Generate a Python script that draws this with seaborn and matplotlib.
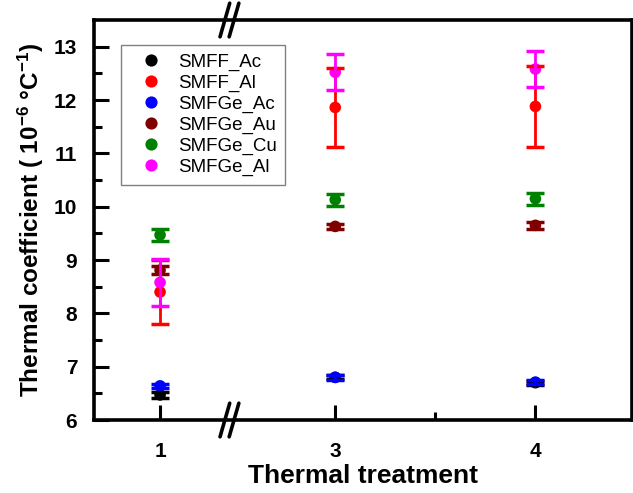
import numpy as np
import pandas as pd
import matplotlib
matplotlib.use("Agg")
import matplotlib.pyplot as plt
from matplotlib.ticker import FixedLocator, NullFormatter
import seaborn as sns

# Dữ liệu
treatments = [1, 3, 4]
series_names = ["SMFF_Ac", "SMFF_Al", "SMFGe_Ac", "SMFGe_Au", "SMFGe_Cu", "SMFGe_Al"]
smff_ac = [6.47, 6.80, 6.70]
smff_ac_err = [0.06, 0.04, 0.04]
smff_al = [8.40, 11.86, 11.88]
smff_al_err = [0.60, 0.74, 0.76]
smfge_ac = [6.64, 6.80, 6.71]
smfge_ac_err = [0.04, 0.05, 0.04]
smfge_au = [8.81, 9.63, 9.65]
smfge_au_err = [0.07, 0.05, 0.06]
smfge_cu = [9.47, 10.13, 10.15]
smfge_cu_err = [0.11, 0.11, 0.11]
smfge_al = [8.58, 12.52, 12.58]
smfge_al_err = [0.44, 0.34, 0.34]
colors = ["#000000", "#FF0000", "#0000FF", "#800000", "#008000", "#FF00FF"]

values = [smff_ac, smff_al, smfge_ac, smfge_au, smfge_cu, smfge_al]
errors = [smff_ac_err, smff_al_err, smfge_ac_err, smfge_au_err, smfge_cu_err, smfge_al_err]

rows = []
for name, v, e in zip(series_names, values, errors):
    for t, vi, ei in zip(treatments, v, e):
        rows.append({"Treatment": t, "Value": vi, "Err": ei, "Sample": name})
df = pd.DataFrame(rows)

sns.set_style("ticks", {"axes.edgecolor": "black", "text.color": "black",
                        "axes.labelcolor": "black", "xtick.color": "black",
                        "ytick.color": "black"})
plt.rcParams["font.family"] = ["Liberation Sans", "DejaVu Sans"]
plt.rcParams["mathtext.fontset"] = "custom"
plt.rcParams["mathtext.rm"] = "Liberation Sans:bold"
plt.rcParams["mathtext.bf"] = "Liberation Sans:bold"
plt.rcParams["mathtext.default"] = "bf"

fig = plt.figure(figsize=(6.33, 4.93), dpi=100)
ax = fig.add_axes([94 / 633, 73 / 493, 537.5 / 633, 400 / 493])

# Điểm dữ liệu
sns.scatterplot(data=df, x="Treatment", y="Value", hue="Sample", hue_order=series_names,
                palette=colors, s=70, linewidth=0, ax=ax, zorder=2)

# Thanh sai số (vẽ trên các điểm)
for name, c in zip(series_names, colors):
    sub = df[df["Sample"] == name]
    ax.errorbar(sub["Treatment"], sub["Value"], yerr=sub["Err"], fmt="none",
                ecolor=c, elinewidth=2, capsize=6.5, capthick=2.5, zorder=3)

# Trục x bị ngắt giữa 1 và 3
xs = [0, 1, 3, 5]
us = [-134, 66, 241, 641]
ax.set_xscale("function", functions=(lambda x: np.interp(x, xs, us),
                                     lambda u: np.interp(u, us, xs)))
ax.set_xlim(0.67, 4.48)
ax.set_ylim(6, 13.5)

ax.xaxis.set_major_locator(FixedLocator(treatments))
ax.xaxis.set_minor_locator(FixedLocator([3.5]))
ax.xaxis.set_minor_formatter(NullFormatter())
ax.set_xticklabels([str(t) for t in treatments])
ax.set_yticks(range(6, 14))
ax.yaxis.set_minor_locator(FixedLocator(np.arange(6.5, 13.5, 1.0)))

ax.tick_params(axis="both", which="major", direction="in", length=11, width=2.2,
               labelsize=15, top=False, right=False, colors="black")
ax.tick_params(axis="both", which="minor", direction="in", length=6, width=2.2,
               top=False, right=False, colors="black")
ax.tick_params(axis="x", which="major", pad=16)
ax.tick_params(axis="y", which="major", pad=12)
for lab in ax.get_xticklabels() + ax.get_yticklabels():
    lab.set_fontweight("bold")

for sp in ax.spines.values():
    sp.set_linewidth(2.6)
    sp.set_color("black")
    sp.set_visible(True)

ax.set_xlabel("Thermal treatment", fontsize=19, fontweight="bold", labelpad=2)
ax.set_ylabel(r"Thermal coefficient ( 10$^{-6}$ °C$^{-1}$)", fontsize=17.5,
              fontweight="bold", labelpad=6)

# Ký hiệu ngắt trục //
xb = 0.252
for yb in (0, 1):
    for off in (-0.0085, 0.0085):
        ax.plot([xb + off - 0.009, xb + off + 0.009], [yb - 0.042, yb + 0.042],
                transform=ax.transAxes, color="black", lw=2.6, clip_on=False,
                solid_capstyle="round", zorder=5)

sns.move_legend(ax, loc="upper left", bbox_to_anchor=(0.05, 0.9375), borderaxespad=0,
                title=None, frameon=True, fancybox=False, edgecolor="#808080",
                fontsize=13.5, labelspacing=0.2, borderpad=0.45, handlelength=2.3,
                handletextpad=0.3, markerscale=1.05)
ax.get_legend().get_frame().set_linewidth(1)
ax.get_legend().get_frame().set_alpha(1)

fig.savefig("out.png", dpi=100)
